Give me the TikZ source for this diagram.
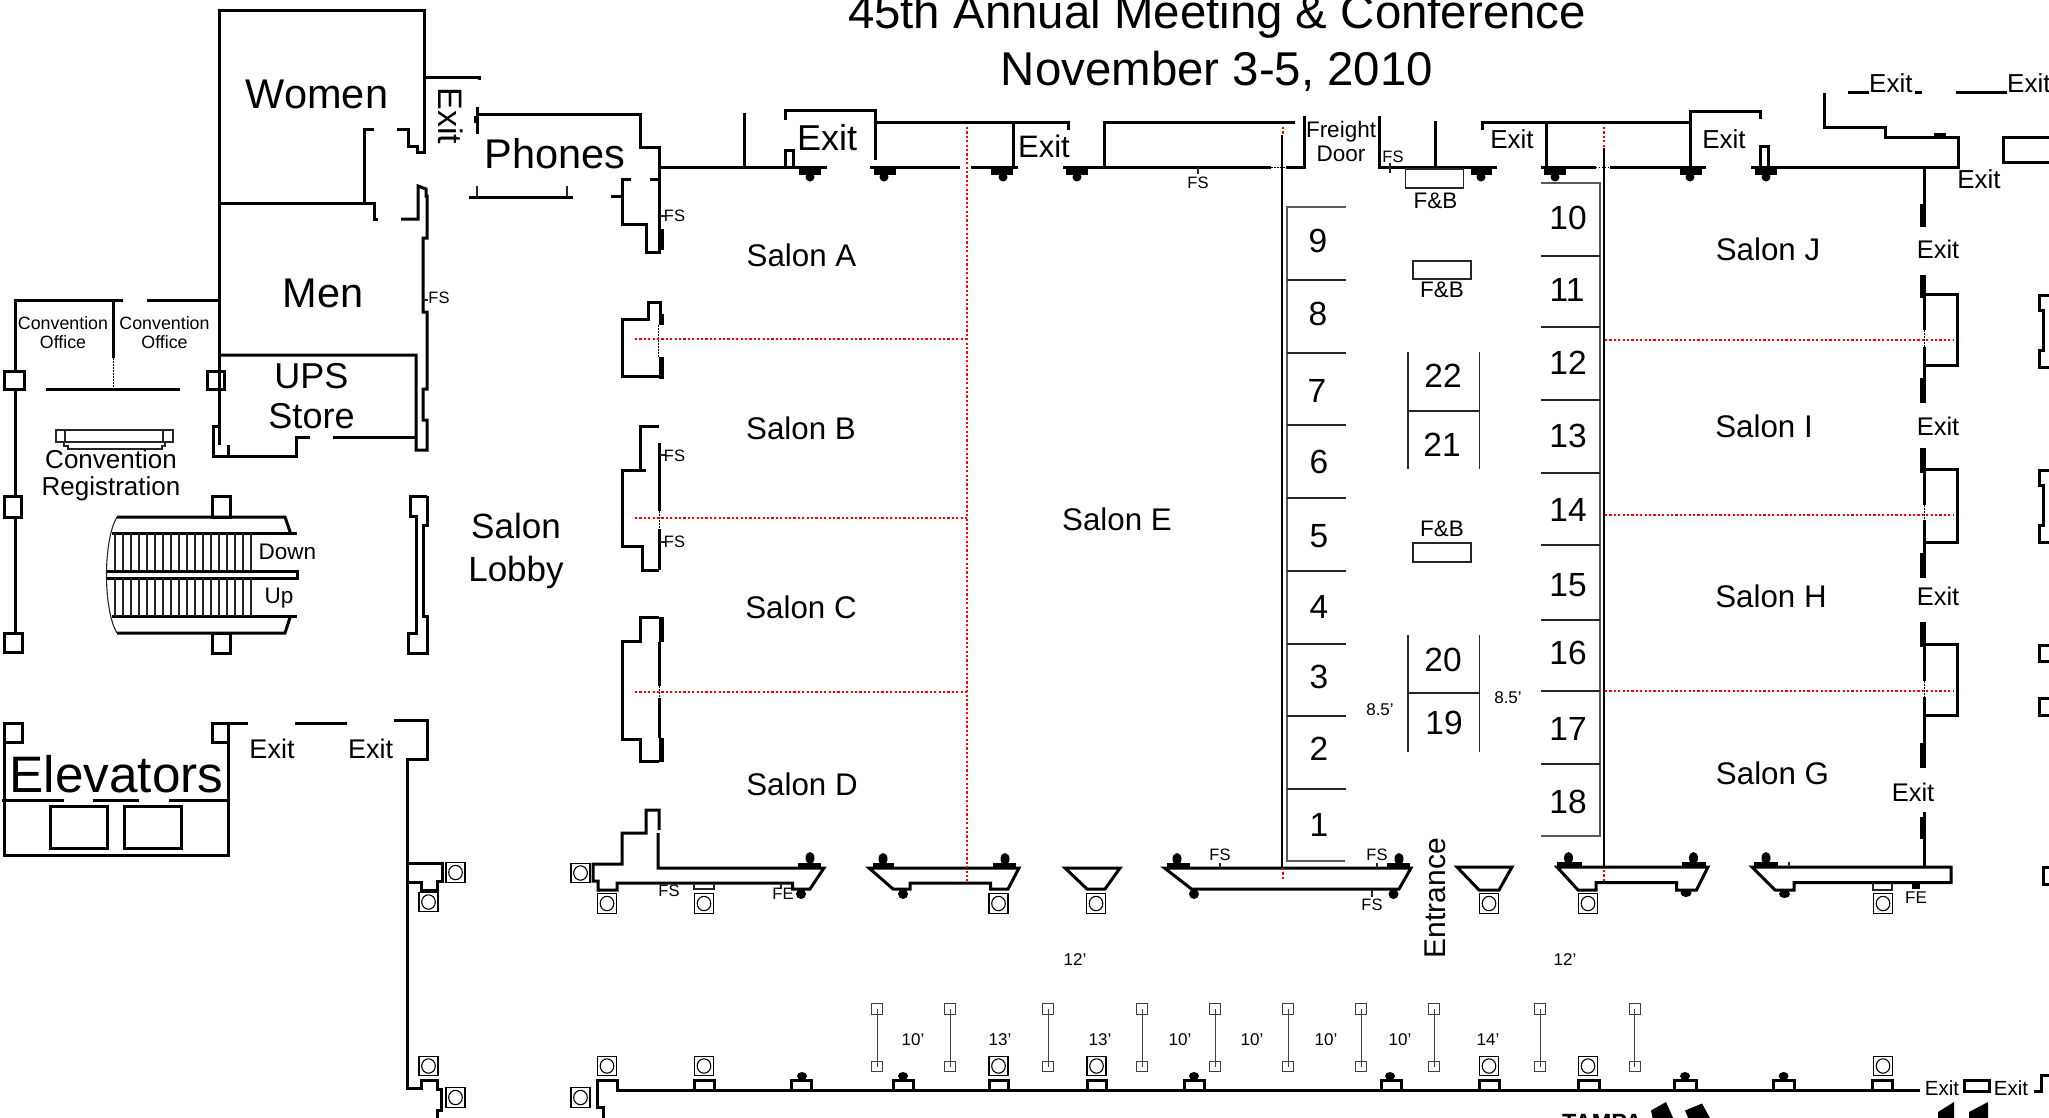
\documentclass[tikz,border=0pt]{standalone}
\usepackage{fontspec}
\setmainfont{Liberation Sans}
\tikzset{
  wall/.style={line width=3pt,miter limit=4},
  thin/.style={line width=1.1pt,black!85},
  grey/.style={line width=1.6pt,black!65},
  red line/.style={red,line width=2.4pt,dash pattern=on 2.2pt off 2.2pt},
  gap/.style={line width=1pt,dash pattern=on 1.5pt off 1.5pt},
  thick door/.style={line width=5pt},
  plate/.style={fill=black,draw=none},
  colbox/.style={rectangle,draw,line width=1.1pt,minimum width=19pt,minimum height=19.5pt,inner sep=0pt,
    path picture={\draw[line width=1.1pt] (path picture bounding box.center) ellipse (6.8pt and 7.2pt);}},
  postbox/.style={rectangle,draw,line width=1pt,black!75,minimum width=11pt,minimum height=10.5pt,inner sep=0pt},
  lbl/.style={inner sep=0pt,align=center},
  title/.style={lbl,font=\fontsize{47.4}{55}\selectfont},
  room/.style={lbl,font=\fontsize{41.5}{44}\selectfont},
  store/.style={lbl,font=\fontsize{36}{40}\selectfont},
  booth/.style={lbl,font=\fontsize{33.5}{35}\selectfont},
  salon/.style={lbl,font=\fontsize{31.3}{34}\selectfont},
  office/.style={lbl,font=\fontsize{17.8}{19}\selectfont},
  exit/.style={lbl,font=\fontsize{26}{28}\selectfont},
  small/.style={lbl,font=\fontsize{22.5}{24}\selectfont},
  fs/.style={lbl,font=\fontsize{16.5}{17}\selectfont},
  dim/.style={lbl,font=\fontsize{17}{18}\selectfont},
}
\begin{document}
\begin{tikzpicture}[x=1pt,y=-1pt]
\useasboundingbox (0,0) rectangle (2049,1117);
% titles
\node (title1) [title] at (1217,16) {45th Annual Meeting \& Conference};
\node (title2) [title] at (1217,71.5) {November 3-5, 2010};
% rest rooms
\draw[wall] (397,129) -- (408,129) -- (408,146) -- (417,146) -- (417,152) -- (424,152) -- (424,10) -- (219,10) -- (219,445);
\draw[wall] (374,129) -- (364,129) -- (364,203);
\draw[wall] (219,203) -- (374,203) -- (374,219) -- (378,219);
\draw[wall] (401,219) -- (418,219) -- (418,186) -- (426,189) -- (426,196) -- (427,196) -- (427,238) -- (423,238) -- (423,312) -- (427,312) -- (427,389) -- (423,389) -- (423,420) -- (427,420) -- (427,450) -- (416,450) -- (416,355) -- (219,355);
\draw[wall] (416,437) -- (333,437);
\draw[wall] (310,437) -- (296,437) -- (296,456) -- (213,456) -- (213,426) -- (219,426);
\draw[wall] (228.5,445) -- (228.5,456);
\draw[wall] (424,77) -- (479,77) -- (479,80);
\draw[thin] (423,300) -- (428,300);
\node (women) [room] at (317,94) {Women};
\node (men) [room] at (323,293) {Men};
\node (ups) [store] at (311.5,396.5) {UPS\\Store};
\node (exit1) [room,rotate=-90,font=\fontsize{34}{36}\selectfont] at (451,116) {Exit};
\node (fs1) [fs] at (439,298) {FS};
% phones
\draw[wall] (477,107) -- (477,134);
\draw[wall] (477,114) -- (640,114) -- (640,147) -- (659,147) -- (659,252) -- (646,252) -- (646,224) -- (622,224) -- (622,179) -- (631,179);
\draw[wall] (650,179) -- (659,179);
\draw[wall] (611,196) -- (622,196);
\draw[wall] (469,197) -- (573,197);
\draw[wall] (475,116) -- (475,123);
\draw[thin] (477,186) -- (477,197);
\draw[thin] (567,186) -- (567,197);
\node (phones) [room] at (555,154) {Phones};
% convention offices
\draw[wall] (15,371) -- (15,300) -- (123,300);
\draw[wall] (147,300) -- (219,300);
\draw[wall] (113,300) -- (113,358);
\draw[gap] (113,358) -- (113,388);
\draw[wall] (45.5,389) -- (180,389);
\draw[wall] (4.5,371) rectangle (24,389);
\draw[wall] (207,371) rectangle (224,389);
\draw[wall] (15,389) -- (15,496);
\draw[wall] (4,496) rectangle (21,517);
\draw[wall] (15,517) -- (15,633);
\draw[wall] (4,633) rectangle (22,652);
\node (office1) [office] at (63,332.5) {Convention\\Office};
\node (office2) [office] at (164.5,332.5) {Convention\\Office};
% registration desk
\draw[thin] (56,430) rectangle (173,442);
\draw[thin] (65,430) -- (65,442);
\draw[thin] (163,430) -- (163,442);
\draw[thin] (64,442) -- (64,446) -- (68,446) -- (68,449) -- (162,449) -- (162,446) -- (165,446) -- (165,442);
\node (reg) [lbl,font=\fontsize{26}{27}\selectfont] at (111,475.5) {Convention\\Registration};
% escalators
\draw[wall] (117,517) -- (285,517) -- (290.5,533);
\draw[wall] (112,533) -- (297,533);
\draw[wall] (107,571) -- (297,571) -- (297,578) -- (107,578);
\draw[wall] (112,616) -- (297,616);
\draw[wall] (290.5,616) -- (285,633) -- (117,633);
\draw[thin] (117,517) .. controls (103,540) and (103,610) .. (117,633);
\draw[wall] (212.5,496) rectangle (230,517);
\draw[wall] (212.5,633) rectangle (230,653);
\foreach \x in {115,123,...,254} {
  \draw[thin] (\x,533) -- (\x,571);
  \draw[thin] (\x,578) -- (\x,616);
}
\node (down) [small] at (287.5,552) {Down};
\node (up) [small] at (279,598) {Up};
% lobby
\draw[wall] (427,496) -- (410,496) -- (410,516) -- (416,516) -- (416,633) -- (408,633) -- (408,653) -- (427,653) -- (427,616) -- (423,616) -- (423,525) -- (427,525) -- (427,496);
\node (lobby) [lbl,font=\fontsize{35}{43}\selectfont] at (516,551) {Salon\\Lobby};
% elevators
\draw[wall] (4,723) rectangle (22,742);
\draw[wall] (212.5,723) rectangle (228.5,742);
\draw[wall] (4,742) -- (4,855) -- (228.5,855) -- (228.5,742);
\draw[wall] (2,800.5) -- (64,800.5);
\draw[wall] (93,800.5) -- (139,800.5);
\draw[wall] (169,800.5) -- (228.5,800.5);
\draw[wall] (50,806) rectangle (107,848);
\draw[wall] (124.5,806) rectangle (181,848);
\draw[wall] (228.5,723.5) -- (248,723.5);
\draw[wall] (295,723.5) -- (347,723.5);
\draw[wall] (394,720.5) -- (427,720.5) -- (427,759) -- (407,759) -- (407,1088) -- (421,1088) -- (421,1080) -- (437,1080) -- (437,1089) -- (441,1089) -- (441,1110.5) -- (437,1110.5) -- (437,1120);
\draw[wall] (407,863) -- (442,863) -- (442,881.5) -- (437,881.5) -- (437,890) -- (421,890) -- (421,882.5) -- (407,882.5);
\node (elev) [lbl,font=\fontsize{51.3}{54}\selectfont] at (116.5,774) {Elevators};
\node (exit2) [exit,font=\fontsize{27}{28}\selectfont] at (272,748.5) {Exit};
\node (exit3) [exit,font=\fontsize{27}{28}\selectfont] at (370.5,748.5) {Exit};
\node (col1) [colbox] at (455.5,872.5) {};
\node (col2) [colbox] at (428.5,902) {};
\node (col3) [colbox] at (428.5,1066) {};
\node (col4) [colbox] at (455.5,1097.5) {};
% salon a to d walls
\draw[wall] (659,252) -- (659,229);
\draw[thick door] (661,229) -- (661,250);
\draw[thin] (661,216) -- (666,216);
\node (fs2) [fs] at (674.5,216) {FS};
\draw[wall] (660,314) -- (660,302) -- (648,302) -- (648,319) -- (622,319) -- (622,376) -- (659,376);
\draw[thick door] (661,314) -- (661,325);
\draw[gap] (658,325) -- (658,357);
\draw[thick door] (661,357) -- (661,379);
\draw[wall] (659,426) -- (640,426) -- (640,470) -- (646,470);
\draw[wall] (640,470) -- (622,470) -- (622,546) -- (642,546) -- (642,570) -- (659,570);
\draw[wall] (659,443) -- (659,511);
\draw[gap] (659,511) -- (659,529);
\draw[wall] (659,529) -- (659,570);
\draw[thin] (660,455) -- (666,455);
\draw[thin] (660,542) -- (666,542);
\node (fs3) [fs] at (674.5,456) {FS};
\node (fs4) [fs] at (674.5,542) {FS};
\draw[wall] (659,617) -- (640.5,617) -- (640.5,641) -- (622,641) -- (622,739) -- (640.5,739) -- (640.5,761) -- (659,761);
\draw[wall] (659,642) -- (659,686);
\draw[gap] (659,686) -- (659,698);
\draw[wall] (659,698) -- (659,738);
\draw[thick door] (661,617) -- (661,642);
\draw[thick door] (661,738) -- (661,762);
\draw[wall] (659,830) -- (659,810) -- (646,810) -- (646,833) -- (622,833) -- (622,864) -- (593,864) -- (593,881) -- (598,881) -- (598,890) -- (617,890) -- (617,883) -- (792.5,883) -- (792.5,889) -- (810,889) -- (824,868) -- (658,868) -- (658,833);
\draw[thin] (694,883) -- (694,889) -- (714,889) -- (714,883);
\draw[thin] (781,883) -- (781,889);
\draw[wall] (869,868) -- (1019,868) -- (1008,889) -- (990.5,889) -- (990.5,883) -- (910,883) -- (910,889) -- (893,889) -- cycle;
\draw[wall] (1065,868) -- (1120,868) -- (1105,889) -- (1087,889) -- cycle;
\draw[wall] (1164.5,868) -- (1411,868) -- (1399,889) -- (1191.5,889) -- cycle;
\draw[wall] (1457,867) -- (1512,867) -- (1499,890) -- (1479,890) -- cycle;
\draw[wall] (1557,867) -- (1708,867) -- (1696.5,890) -- (1676.5,890) -- (1676.5,882.5) -- (1596,882.5) -- (1596,890) -- (1578,890) -- cycle;
\draw[wall] (1752,867) -- (1951,867) -- (1951,882.5) -- (1794,882.5) -- (1794,890) -- (1775,890) -- cycle;
\draw[thin] (1873,883) -- (1873,890) -- (1892,890) -- (1892,883);
\draw[plate] (1912,883) rectangle (1920,889);
\draw[plate] (798,863) rectangle (821,868);
\draw[plate] (873,863) rectangle (894,868);
\draw[plate] (993,863) rectangle (1016,868);
\draw[plate] (1167,863) rectangle (1190,868);
\draw[plate] (1387,863) rectangle (1410,868);
\draw[plate] (1557,862) rectangle (1582,867);
\draw[plate] (1682,862) rectangle (1706,867);
\draw[plate] (1754,862) rectangle (1778,867);
\draw[plate] (810,858) ellipse (4.5 and 6);
\draw[plate] (883,859) ellipse (4.5 and 6);
\draw[plate] (1005,859) ellipse (4.5 and 6);
\draw[plate] (1177,859) ellipse (4.5 and 6);
\draw[plate] (1399,859) ellipse (4.5 and 6);
\draw[plate] (1568.5,858) ellipse (4.5 and 6);
\draw[plate] (1693.5,858) ellipse (4.5 and 6);
\draw[plate] (1766,858) ellipse (4.5 and 6);
\draw[plate] (801,894) circle (5);
\draw[plate] (903,894) circle (5);
\draw[plate] (1194,894) circle (5);
\draw[plate] (1393.5,894) circle (5);
\draw[plate] (1686,893) ellipse (5.5 and 4);
\draw[plate] (1784.5,894) ellipse (5.5 and 4);
\node (col5) [colbox] at (580.5,873) {};
\node (col6) [colbox] at (607,903.5) {};
\node (col7) [colbox] at (704,903.5) {};
\node (col8) [colbox] at (998.5,903.5) {};
\node (col9) [colbox] at (1096,903.5) {};
\node (col10) [colbox] at (1489,903.5) {};
\node (col11) [colbox] at (1588,903.5) {};
\node (col12) [colbox] at (1883,903.5) {};
\node (fs5) [fs] at (669,891) {FS};
\node (fe1) [fs] at (783,894) {FE};
\node (fs6) [fs] at (1220,855) {FS};
\node (fs7) [fs] at (1377,855) {FS};
\node (fs8) [fs] at (1372,905) {FS};
\node (fe2) [fs,font=\fontsize{17}{18}\selectfont] at (1916,897.5) {FE};
\draw[thin] (1372,890) -- (1372,897);
\draw[thin] (1220,863) -- (1220,868);
\draw[thin] (1377,863) -- (1377,868);
\draw[thin] (1789,862) -- (1789,867);
\node (entrance) [lbl,rotate=90,font=\fontsize{30}{32}\selectfont] at (1435,898) {Entrance};
% top wall
\draw[wall] (659,167) -- (827,167);
\draw[wall] (870,167) -- (960,167);
\draw[wall] (971,167) -- (1018,167);
\draw[wall] (1063,167) -- (1271,167);
\draw[gap] (1271,167) -- (1286,167);
\draw[wall] (1286,167) -- (1304,167) -- (1304,116);
\draw[wall] (1379,116) -- (1379,167) -- (1497,167);
\draw[wall] (1541,167) -- (1595.5,167);
\draw[gap] (1595.5,167) -- (1610,167);
\draw[wall] (1610,167) -- (1706,167);
\draw[wall] (1751,167) -- (1958,167) -- (1958,137) -- (1885.5,137) -- (1885.5,127) -- (1824,127) -- (1824,93);
\draw[wall] (744,113) -- (744,167);
\draw[wall] (785,120) -- (785,110) -- (875.5,110) -- (875.5,160);
\draw[wall] (874.5,122) -- (1068,122) -- (1068,130);
\draw[wall] (1013,122) -- (1013,167);
\draw[wall] (1295,122) -- (1104,122) -- (1104,167);
\draw[wall] (785,167) -- (785,150) -- (793,150) -- (793,167);
\draw[wall] (1435.5,121) -- (1435.5,167);
\draw[wall] (1482,130) -- (1482,122) -- (1689,122);
\draw[wall] (1546,122) -- (1546,167);
\draw[wall] (1690.5,167) -- (1690.5,111) -- (1760.5,111) -- (1760.5,119);
\draw[wall] (1760,167) -- (1760,146) -- (1768,146) -- (1768,167);
\draw[plate] (1934,133) rectangle (1946,137);
\draw[plate] (799,169) rectangle (821,175);
\draw[plate] (874,169) rectangle (896,175);
\draw[plate] (991,169) rectangle (1013,175);
\draw[plate] (1066,169) rectangle (1088,175);
\draw[plate] (1470.5,169) rectangle (1492,175);
\draw[plate] (1544,169) rectangle (1565.5,175);
\draw[plate] (1680,169) rectangle (1702,175);
\draw[plate] (1755,169) rectangle (1777,175);
\draw[plate] (810,177) circle (4.5);
\draw[plate] (884,177) circle (4.5);
\draw[plate] (1003,177) circle (4.5);
\draw[plate] (1077,177) circle (4.5);
\draw[plate] (1481,177) circle (4.5);
\draw[plate] (1555,177) circle (4.5);
\draw[plate] (1690,177) circle (4.5);
\draw[plate] (1766,177) circle (4.5);
\draw[thin] (1198,167) -- (1198,174);
\draw[thin] (1390,163) -- (1390,173);
\node (exit4) [room,font=\fontsize{36}{38}\selectfont] at (827,138) {Exit};
\node (exit5) [room,font=\fontsize{31}{33}\selectfont] at (1044,146) {Exit};
\node (exit6) [exit] at (1512,139) {Exit};
\node (exit7) [exit] at (1724,139) {Exit};
\node (freight) [small] at (1341,141.5) {Freight\\Door};
\node (fs9) [fs] at (1198,183) {FS};
\node (fs10) [fs] at (1393,157) {FS};
% salons
\node (salonA) [salon] at (801.5,255) {Salon A};
\node (salonB) [salon] at (801,428) {Salon B};
\node (salonC) [salon] at (801,607) {Salon C};
\node (salonD) [salon] at (802,784) {Salon D};
\node (salonE) [salon] at (1117,519) {Salon E};
\node (salonJ) [salon] at (1768,249) {Salon J};
\node (salonI) [salon] at (1764,426) {Salon I};
\node (salonH) [salon] at (1771,596) {Salon H};
\node (salonG) [salon] at (1772.5,773) {Salon G};
\draw[red line] (967,127) -- (967,881);
\draw[red line] (635,339) -- (967,339);
\draw[red line] (635,518) -- (967,518);
\draw[red line] (635,692) -- (967,692);
\draw[red line] (1283,127) -- (1283,135);
\draw[red line] (1283,868) -- (1283,881);
\draw[red line] (1604,127) -- (1604,148);
\draw[red line] (1604,870) -- (1604,881);
\draw[red line] (1605,340) -- (1953,340);
\draw[red line] (1605,515) -- (1953,515);
\draw[red line] (1605,691) -- (1953,691);
% partition walls
\draw[line width=2pt] (1282,135) -- (1282,868);
\draw[line width=2pt] (1604,148) -- (1604,867);
% booths 1 to 9
\draw[grey] (1345,861) -- (1287,861) -- (1287,207) -- (1346,207);
\draw[thin] (1287,280) -- (1346,280);
\draw[thin] (1287,353) -- (1346,353);
\draw[thin] (1287,425) -- (1346,425);
\draw[thin] (1287,498) -- (1346,498);
\draw[thin] (1287,571) -- (1346,571);
\draw[thin] (1287,644) -- (1346,644);
\draw[thin] (1287,716) -- (1346,716);
\draw[thin] (1287,789) -- (1346,789);
\node (b9) [booth] at (1318,241) {9};
\node (b8) [booth] at (1318,314) {8};
\node (b7) [booth] at (1317,391) {7};
\node (b6) [booth] at (1319,462) {6};
\node (b5) [booth] at (1319,536) {5};
\node (b4) [booth] at (1319,607) {4};
\node (b3) [booth] at (1319,677) {3};
\node (b2) [booth] at (1319,749) {2};
\node (b1) [booth] at (1319,825) {1};
% booths 10 to 18
\draw[grey] (1541,836) -- (1600,836) -- (1600,183) -- (1541,183);
\draw[thin] (1541,256) -- (1600,256);
\draw[thin] (1541,327) -- (1600,327);
\draw[thin] (1541,400) -- (1600,400);
\draw[thin] (1541,473) -- (1600,473);
\draw[thin] (1541,545) -- (1600,545);
\draw[thin] (1541,620) -- (1600,620);
\draw[thin] (1541,691) -- (1600,691);
\draw[thin] (1541,764) -- (1600,764);
\node (b10) [booth] at (1568,218) {10};
\node (b11) [booth] at (1567,290) {11};
\node (b12) [booth] at (1568,363) {12};
\node (b13) [booth] at (1568,436) {13};
\node (b14) [booth] at (1568,510) {14};
\node (b15) [booth] at (1568,585) {15};
\node (b16) [booth] at (1568,653) {16};
\node (b17) [booth] at (1568,729) {17};
\node (b18) [booth] at (1568,801.5) {18};
% booths 19 to 22
\draw[thin] (1408,352) -- (1408,469);
\draw[thin] (1479.5,352) -- (1479.5,469);
\draw[thin] (1408,411) -- (1479.5,411);
\draw[thin] (1408,635) -- (1408,752);
\draw[thin] (1479.5,635) -- (1479.5,752);
\draw[thin] (1408,693) -- (1479.5,693);
\node (b22) [booth] at (1443,376) {22};
\node (b21) [booth] at (1442,445) {21};
\node (b20) [booth] at (1443,660) {20};
\node (b19) [booth] at (1444,723) {19};
\node (dim1) [dim] at (1380,710) {8.5'};
\node (dim2) [dim] at (1508,698) {8.5'};
% food tables
\draw[thin] (1405.6,169) rectangle (1463.6,188);
\draw[thin] (1413,261) rectangle (1471,279);
\draw[thin] (1413,543) rectangle (1471,562);
\node (fb1) [small] at (1435.5,201) {F\&B};
\node (fb2) [small] at (1442,290) {F\&B};
\node (fb3) [small] at (1442,529) {F\&B};
% east wall
\draw[wall] (1924,167) -- (1924,227);
\draw[wall] (1924,275) -- (1924,330);
\draw[gap] (1924,330) -- (1924,347);
\draw[wall] (1924,347) -- (1924,403);
\draw[wall] (1924,448) -- (1924,505);
\draw[gap] (1924,505) -- (1924,520);
\draw[wall] (1924,520) -- (1924,578);
\draw[wall] (1924,622) -- (1924,681);
\draw[gap] (1924,681) -- (1924,697);
\draw[wall] (1924,697) -- (1924,768);
\draw[wall] (1924,812) -- (1924,867);
\draw[thick door] (1922,204) -- (1922,227);
\draw[thick door] (1922,275) -- (1922,298);
\draw[thick door] (1922,378) -- (1922,403);
\draw[thick door] (1922,448) -- (1922,473);
\draw[thick door] (1922,553) -- (1922,578);
\draw[thick door] (1922,622) -- (1922,647);
\draw[thick door] (1922,743) -- (1922,768);
\draw[thick door] (1922,817) -- (1922,839);
\draw[wall] (1924,294) -- (1957,294) -- (1957,365) -- (1924,365);
\draw[wall] (1924,469) -- (1957,469) -- (1957,542) -- (1924,542);
\draw[wall] (1924,644.5) -- (1957,644.5) -- (1957,715.5) -- (1924,715.5);
\node (exit8) [exit] at (1979,179) {Exit};
\node (exit9) [exit,font=\fontsize{25.5}{26}\selectfont] at (1938,249) {Exit};
\node (exit10) [exit,font=\fontsize{25.5}{26}\selectfont] at (1938,426) {Exit};
\node (exit11) [exit,font=\fontsize{25.5}{26}\selectfont] at (1938,596) {Exit};
\node (exit12) [exit,font=\fontsize{25.5}{26}\selectfont] at (1913,792) {Exit};
% outside east
\draw[wall] (1848,92) -- (1868.5,92);
\draw[wall] (1915,92) -- (1922,92);
\draw[wall] (1956,92) -- (2007,92);
\node (exit13) [exit,anchor=west] at (1869,83) {Exit};
\node (exit14) [exit,anchor=west] at (2007,83) {Exit};
\draw[wall] (2052,137) -- (2003,137) -- (2003,162) -- (2052,162);
\draw[wall] (2052,295) -- (2039,295) -- (2039,310) -- (2043,310) -- (2043,350) -- (2039,350) -- (2039,367) -- (2052,367);
\draw[wall] (2052,470) -- (2039,470) -- (2039,485) -- (2043,485) -- (2043,525) -- (2039,525) -- (2039,542) -- (2052,542);
\draw[wall] (2052,645) -- (2039,645) -- (2039,661) -- (2052,661);
\draw[wall] (2052,698.5) -- (2039,698.5) -- (2039,715.5) -- (2052,715.5);
\draw[wall] (2052,867) -- (2043,867) -- (2043,884) -- (2052,884);
% bottom wall
\draw[wall] (597,1120) -- (603,1120) -- (603,1107) -- (597,1107) -- (597,1080) -- (617,1080) -- (617,1090) -- (1920,1090);
\draw[wall] (694,1090) -- (694,1080.5) -- (714,1080.5) -- (714,1090);
\draw[wall] (791,1090) -- (791,1080.5) -- (811,1080.5) -- (811,1090);
\draw[wall] (893,1090) -- (893,1080.5) -- (913,1080.5) -- (913,1090);
\draw[wall] (989,1090) -- (989,1080.5) -- (1008,1080.5) -- (1008,1090);
\draw[wall] (1087,1090) -- (1087,1080.5) -- (1106.5,1080.5) -- (1106.5,1090);
\draw[wall] (1184.5,1090) -- (1184.5,1080.5) -- (1204,1080.5) -- (1204,1090);
\draw[wall] (1381,1090) -- (1381,1080.5) -- (1401,1080.5) -- (1401,1090);
\draw[wall] (1479,1090) -- (1479,1080.5) -- (1499.5,1080.5) -- (1499.5,1090);
\draw[wall] (1578,1090) -- (1578,1080.5) -- (1599,1080.5) -- (1599,1090);
\draw[wall] (1674,1090) -- (1674,1080.5) -- (1696,1080.5) -- (1696,1090);
\draw[wall] (1773,1090) -- (1773,1080.5) -- (1794,1080.5) -- (1794,1090);
\draw[wall] (1872,1090) -- (1872,1080.5) -- (1892,1080.5) -- (1892,1090);
\draw[plate] (802,1076) ellipse (5 and 4);
\draw[plate] (903,1076) ellipse (5 and 4);
\draw[plate] (1194,1076) ellipse (5 and 4);
\draw[plate] (1390,1076) ellipse (5 and 4);
\draw[plate] (1685,1076) ellipse (5 and 4);
\draw[plate] (1783.6,1076) ellipse (5 and 4);
\node (col13) [colbox] at (607,1066) {};
\node (col14) [colbox] at (704,1066) {};
\node (col15) [colbox] at (998.5,1066) {};
\node (col16) [colbox] at (1096.5,1066) {};
\node (col17) [colbox] at (1489,1066) {};
\node (col18) [colbox] at (1588,1066) {};
\node (col19) [colbox] at (1883,1066) {};
\node (col20) [colbox] at (580.5,1097.5) {};
\draw[wall] (1964.5,1080) rectangle (1989,1091);
\draw[wall] (2034,1091) -- (2041,1091) -- (2041,1075) -- (2052,1075);
\node (exit15) [exit,font=\fontsize{20.5}{22}\selectfont] at (1942,1088) {Exit};
\node (exit16) [exit,font=\fontsize{20.5}{22}\selectfont] at (2011,1088) {Exit};
\draw[plate] (1938,1120) -- (1938,1112) -- (1954,1102) -- (1954,1120) -- cycle;
\draw[plate] (1969,1120) -- (1969,1112) -- (1988,1102) -- (1988,1120) -- cycle;
\draw[plate] (1651,1110.5) -- (1666,1102) -- (1674,1120) -- (1653,1120) -- cycle;
\draw[plate] (1685,1110.5) -- (1702,1103.5) -- (1711,1120) -- (1689,1120) -- cycle;
\node (tampa) [lbl,anchor=base west,font=\bfseries\fontsize{23.5}{25}\selectfont] at (1562,1130) {TAMPA};
% posts
\node (p1) [postbox] at (877,1009) {};
\node (p2) [postbox] at (877,1066.5) {};
\node (p3) [postbox] at (950,1009) {};
\node (p4) [postbox] at (950,1066.5) {};
\node (p5) [postbox] at (1048,1009) {};
\node (p6) [postbox] at (1048,1066.5) {};
\node (p7) [postbox] at (1142,1009) {};
\node (p8) [postbox] at (1142,1066.5) {};
\node (p9) [postbox] at (1215,1009) {};
\node (p10) [postbox] at (1215,1066.5) {};
\node (p11) [postbox] at (1288,1009) {};
\node (p12) [postbox] at (1288,1066.5) {};
\node (p13) [postbox] at (1361,1009) {};
\node (p14) [postbox] at (1361,1066.5) {};
\node (p15) [postbox] at (1434,1009) {};
\node (p16) [postbox] at (1434,1066.5) {};
\node (p17) [postbox] at (1540,1009) {};
\node (p18) [postbox] at (1540,1066.5) {};
\node (p19) [postbox] at (1634.5,1009) {};
\node (p20) [postbox] at (1634.5,1066.5) {};
\draw[line width=1pt,black!75] (p1.center) -- (p2.center);
\draw[line width=1pt,black!75] (p3.center) -- (p4.center);
\draw[line width=1pt,black!75] (p5.center) -- (p6.center);
\draw[line width=1pt,black!75] (p7.center) -- (p8.center);
\draw[line width=1pt,black!75] (p9.center) -- (p10.center);
\draw[line width=1pt,black!75] (p11.center) -- (p12.center);
\draw[line width=1pt,black!75] (p13.center) -- (p14.center);
\draw[line width=1pt,black!75] (p15.center) -- (p16.center);
\draw[line width=1pt,black!75] (p17.center) -- (p18.center);
\draw[line width=1pt,black!75] (p19.center) -- (p20.center);
\node (dim3) [dim] at (1075,960) {12'};
\node (dim4) [dim] at (1565,960) {12'};
\node (dim5) [dim] at (913,1040) {10'};
\node (dim6) [dim] at (1000,1040) {13'};
\node (dim7) [dim] at (1100,1040) {13'};
\node (dim8) [dim] at (1180,1040) {10'};
\node (dim9) [dim] at (1252,1040) {10'};
\node (dim10) [dim] at (1326,1040) {10'};
\node (dim11) [dim] at (1400,1040) {10'};
\node (dim12) [dim] at (1488,1040) {14'};
\end{tikzpicture}
\end{document}
